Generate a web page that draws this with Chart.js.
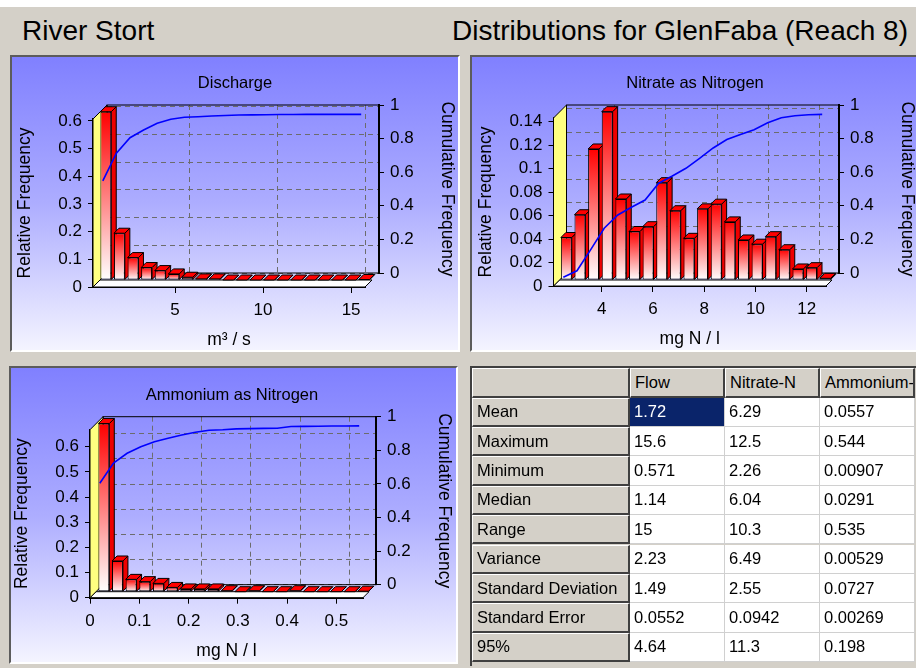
<!DOCTYPE html>
<html><head><meta charset="utf-8">
<script src="https://cdn.jsdelivr.net/npm/chart.js@4.4.0/dist/chart.umd.min.js"></script>
<style>
html,body{margin:0;padding:0;}
body{width:916px;height:668px;position:relative;overflow:hidden;background:#d4d0c8;font-family:"Liberation Sans",Arial,sans-serif;color:#000;}
#strip{position:absolute;left:0;top:0;width:916px;height:7px;background:#fff;}
.hdr{position:absolute;top:17px;font-size:28px;line-height:28px;white-space:nowrap;}
.panel{position:absolute;box-sizing:border-box;border-top:2px solid #5c5c5c;border-left:2px solid #5c5c5c;border-right:2px solid #fff;border-bottom:2px solid #fff;background:linear-gradient(to bottom,#8080ff 0%,#adadff 50%,#f4f4ff 100%);}
.ptitle{position:absolute;font-size:16.5px;line-height:20px;white-space:nowrap;transform:translateX(-50%);}
canvas.ch{position:absolute;left:0;top:0;}
#tbl{position:absolute;left:470px;top:366px;width:460px;height:300px;box-sizing:border-box;border-top:2px solid #404040;border-left:2px solid #404040;}
.cell{position:absolute;box-sizing:border-box;font-size:16.5px;padding-left:4px;display:flex;align-items:center;white-space:nowrap;overflow:hidden;}
.raised{background:#d4d0c8;border-top:1px solid #fff;border-left:1px solid #fff;border-right:2px solid #404040;border-bottom:2px solid #404040;}
.data{background:#fff;border-right:1px solid #d0d0d0;border-bottom:1px solid #d0d0d0;}
.sel{background:#0a246a;color:#fff;}
</style></head>
<body>
<div id="strip"></div>
<div class="hdr" style="left:22px;">River Stort</div>
<div class="hdr" style="left:452px;">Distributions for GlenFaba (Reach 8)</div>

<div class="panel" style="left:10px;top:55px;width:450px;height:297px;"></div>
<div class="panel" style="left:470px;top:55px;width:452px;height:297px;"></div>
<div class="panel" style="left:9px;top:366px;width:449px;height:298px;"></div>

<canvas class="ch" id="aBack" width="916" height="668"></canvas>
<canvas class="ch" id="aFront" width="916" height="668"></canvas>
<canvas class="ch" id="bBack" width="916" height="668"></canvas>
<canvas class="ch" id="bFront" width="916" height="668"></canvas>
<canvas class="ch" id="cBack" width="916" height="668"></canvas>
<canvas class="ch" id="cFront" width="916" height="668"></canvas>

<div class="ptitle" style="left:235px;top:72px;">Discharge</div>
<div class="ptitle" style="left:695px;top:72px;">Nitrate as Nitrogen</div>
<div class="ptitle" style="left:232px;top:384px;">Ammonium as Nitrogen</div>

<div id="tbl"></div>

<script>
// ---------------- data ----------------
const binLabels = ['1','2','3','4','5','6','7','8','9','10','11','12','13','14','15','16','17','18','19','20'];

const dischargeRel = [0.608,0.169,0.081,0.045,0.034,0.022,0.010,0.004,0.004,0,0,0,0,0,0,0,0,0,0,0.0014];
const dischargeCum = [0.59,0.755,0.847,0.893,0.933,0.957,0.969,0.972,0.976,0.979,0.982,0.983,0.984,0.985,0.985,0.986,0.986,0.986,0.986,0.986];

const nitrateRel = [0.0362,0.0556,0.1116,0.1434,0.069,0.0413,0.0454,0.0829,0.059,0.0355,0.0606,0.0646,0.0495,0.0341,0.0305,0.0369,0.0258,0.0094,0.0105,0.0014];
const nitrateCum = [0.01,0.049,0.173,0.302,0.381,0.427,0.47,0.57,0.613,0.659,0.718,0.78,0.83,0.86,0.889,0.93,0.96,0.972,0.978,0.98];

const ammoniumRel = [0.668,0.122,0.049,0.040,0.033,0.017,0.011,0.011,0.011,0.004,0,0.004,0,0,0.004,0,0,0,0,0.0014];
const ammoniumCum = [0.64,0.76,0.818,0.857,0.887,0.907,0.927,0.943,0.955,0.958,0.963,0.965,0.966,0.967,0.977,0.978,0.979,0.98,0.98,0.981];

const dischargeXTicks = [5,10,15];
const nitrateXTicks = [4,6,8,10,12];
const ammoniumXTicks = [0,0.1,0.2,0.3,0.4,0.5];
const dischargeYTicks = [0,0.1,0.2,0.3,0.4,0.5,0.6];
const nitrateYTicks = [0,0.02,0.04,0.06,0.08,0.1,0.12,0.14];
const ammoniumYTicks = [0,0.1,0.2,0.3,0.4,0.5,0.6];
const cumTicks = [0,0.2,0.4,0.6,0.8,1];

const statColumns = ['Flow','Nitrate-N','Ammonium-N'];
const statNames = ['Mean','Maximum','Minimum','Median','Range','Variance','Standard Deviation','Standard Error','95%'];
const flowStats = ['1.72','15.6','0.571','1.14','15','2.23','1.49','0.0552','4.64'];
const nitrateStats = ['6.29','12.5','2.26','6.04','10.3','6.49','2.55','0.0942','11.3'];
const ammoniumStats = ['0.0557','0.544','0.00907','0.0291','0.535','0.00529','0.0727','0.00269','0.198'];

// ---------------- layout / style ----------------
const W = 916, H = 668, LW = 82, RW = 82, BH = 68;
const FONT = "'Liberation Sans', Arial, sans-serif";
const tickFont = {family: FONT, size: 17};
const titleFont = {family: FONT, size: 17.5};

function fmt(v){ return String(+(+v).toFixed(6)); }
function fixTicks(list){ return s => { s.ticks = list.map(v => ({value: v})); }; }
function poly(c, pts, fill){
  c.beginPath(); c.moveTo(pts[0][0], pts[0][1]);
  for (let i = 1; i < pts.length; i++) c.lineTo(pts[i][0], pts[i][1]);
  c.closePath(); c.fillStyle = fill; c.fill(); c.stroke();
}
function faceGradient(c, top, base) {
  if (!isFinite(top) || !isFinite(base)) return '#ff0000';
  if (base - top < 1) return '#ffffff';
  const g = c.createLinearGradient(0, top, 0, base);
  g.addColorStop(0, '#ff0000'); g.addColorStop(1, '#ffffff');
  return g;
}
function barGradient(ctx) {
  const chart = ctx.chart, y = chart.scales && chart.scales.y;
  if (!y || ctx.type !== 'data') return '#ff0000';
  return faceGradient(chart.ctx, y.getPixelForValue(ctx.raw), y.getPixelForValue(0));
}

const depth3d = {
  id: 'depth3d',
  beforeDatasetsDraw(chart, args, o) {
    const a = chart.chartArea, c = chart.ctx, D = o.wall, F = o.floor;
    c.save(); c.lineWidth = 1; c.strokeStyle = '#000';
    poly(c, [[a.left, a.bottom],[a.right, a.bottom],[a.right + F, a.bottom - F],[a.left + F, a.bottom - F]], '#ffffff');
    poly(c, [[a.left, a.bottom],[a.left, a.top],[a.left + D, a.top - D],[a.left + D, a.bottom - D]], '#ffff80');
    c.restore();
  },
  beforeDatasetDraw(chart, args, o) {
    const c = chart.ctx; c.save();
    const isBar = args.meta.type === 'bar';
    const sh = isBar ? o.barShift : o.lineShift;
    c.translate(sh[0], sh[1]);
    if (isBar) {
      const d = o.bar;
      c.lineWidth = 1; c.strokeStyle = '#000';
      args.meta.data.forEach(el => {
        const p = el.getProps(['x','y','base','width'], true);
        const L = p.x - p.width / 2, R = p.x + p.width / 2;
        const T = Math.min(p.y, p.base), B = Math.max(p.y, p.base);
        poly(c, [[R, B],[R, T],[R + d, T - d],[R + d, B - d]], '#ee0000');
        poly(c, [[L, T],[R, T],[R + d, T - d],[L + d, T - d]], '#ff0000');
      });
    }
  },
  afterDatasetDraw(chart) { chart.ctx.restore(); }
};

const frame = {
  id: 'frame',
  afterDraw(chart) {
    const a = chart.chartArea, c = chart.ctx;
    c.save(); c.strokeStyle = '#000'; c.lineWidth = 1;
    c.strokeRect(a.left, a.top, a.right - a.left, a.bottom - a.top);
    c.restore();
  }
};

const common = { responsive: false, maintainAspectRatio: false, animation: false, devicePixelRatio: 1, events: [] };

function frontChart(id, cfg) {
  const a = cfg.area;
  return new Chart(document.getElementById(id), {
    type: 'bar',
    data: { labels: binLabels, datasets: [
      { type: 'line', data: cfg.cum, xAxisID: 'x', yAxisID: 'yc', borderColor: '#0000ff', borderWidth: 1.6,
        pointRadius: 0, fill: false, tension: 0, order: 0, clip: false },
      { type: 'bar', data: cfg.rel, xAxisID: 'x', yAxisID: 'y', backgroundColor: barGradient, borderColor: '#000',
        borderWidth: 1, borderSkipped: false, barPercentage: 0.8, categoryPercentage: 1, order: 1, clip: false }
    ]},
    options: Object.assign({}, common, {
      layout: { padding: { left: a.l - LW, top: a.t, right: W - a.r, bottom: H - a.b - BH } },
      plugins: { legend: {display: false}, tooltip: {enabled: false},
        depth3d: { wall: cfg.depth, floor: cfg.barShift[1] * -1, bar: 5, barShift: cfg.barShift, lineShift: [3, -7] } },
      scales: {
        x: { type: 'category', display: false, offset: true },
        xt: { type: 'linear', position: 'bottom', min: cfg.xMin, max: cfg.xMax, offset: false,
          afterBuildTicks: fixTicks(cfg.xTicks), afterFit: s => { s.height = BH; },
          ticks: { font: tickFont, color: '#000', padding: 7, maxRotation: 0, autoSkip: false, callback: fmt },
          grid: { offset: false, drawOnChartArea: false, drawTicks: true, tickLength: 6, color: '#000' },
          border: { display: true, color: '#000', width: 2 },
          title: { display: true, text: cfg.xTitle, font: titleFont, color: '#000' } },
        y: { type: 'linear', position: 'left', min: 0, max: cfg.yMax,
          afterBuildTicks: fixTicks(cfg.yTicks), afterFit: s => { s.width = LW; },
          ticks: { font: tickFont, color: '#000', padding: 6, callback: fmt },
          grid: { drawOnChartArea: false, drawTicks: true, tickLength: 5, color: '#000' },
          border: { display: true, color: '#000', width: 2 },
          title: { display: true, text: 'Relative Frequency', font: titleFont, color: '#000' } },
        yc: { type: 'linear', display: false, min: 0, max: 1 }
      }
    }),
    plugins: [depth3d]
  });
}

function backChart(id, cfg) {
  const a = cfg.area, D = cfg.depth;
  const b = { l: a.l + D, t: a.t - D, r: a.r + D, b: a.b - D };
  const gridOpt = { color: '#6c6c6c', lineWidth: 1, drawTicks: false, offset: false };
  return new Chart(document.getElementById(id), {
    type: 'line',
    data: { datasets: [{ data: [], xAxisID: 'xg', yAxisID: 'yg' }] },
    options: Object.assign({}, common, {
      layout: { padding: { left: b.l, top: b.t, right: W - b.r - RW, bottom: H - b.b } },
      plugins: { legend: {display: false}, tooltip: {enabled: false} },
      scales: {
        xg: { type: 'linear', position: 'bottom', min: cfg.xMin, max: cfg.xMax, offset: false,
          afterBuildTicks: fixTicks(cfg.xTicks), afterFit: s => { s.height = 0; },
          ticks: { display: false }, grid: gridOpt, border: { display: false, dash: [5, 4] } },
        yg: { type: 'linear', position: 'left', min: 0, max: cfg.yMax,
          afterBuildTicks: fixTicks(cfg.yTicks), afterFit: s => { s.width = 0; },
          ticks: { display: false }, grid: gridOpt, border: { display: false, dash: [5, 4] } },
        yr: { type: 'linear', position: 'right', min: 0, max: 1,
          afterBuildTicks: fixTicks(cumTicks), afterFit: s => { s.width = RW; },
          ticks: { font: tickFont, color: '#000', padding: 6, callback: fmt },
          grid: { drawOnChartArea: false, drawTicks: true, tickLength: 5, color: '#000' },
          border: { display: true, color: '#000', width: 2 },
          title: { display: true, text: 'Cumulative Frequency', font: titleFont, color: '#000' } }
      }
    }),
    plugins: [frame]
  });
}

const chartA = { area: {l: 93, t: 119, r: 365, b: 287}, depth: 14, barShift: [6, -7], yMax: 0.607, xMin: 0.34, xMax: 15.79,
  xTicks: dischargeXTicks, yTicks: dischargeYTicks, rel: dischargeRel, cum: dischargeCum, xTitle: 'm³ / s' };
const chartB = { area: {l: 553.5, t: 118, r: 826, b: 286}, depth: 13, barShift: [6, -6], yMax: 0.1431, xMin: 2.119, xMax: 12.753,
  xTicks: nitrateXTicks, yTicks: nitrateYTicks, rel: nitrateRel, cum: nitrateCum, xTitle: 'mg N / l' };
const chartC = { area: {l: 90, t: 429.7, r: 363, b: 597.7}, depth: 13, barShift: [7, -6], yMax: 0.6675, xMin: 0, xMax: 0.554,
  xTicks: ammoniumXTicks, yTicks: ammoniumYTicks, rel: ammoniumRel, cum: ammoniumCum, xTitle: 'mg N / l' };

// ---------------- statistics table ----------------
(function buildTable(){
  const tbl = document.getElementById('tbl');
  const colX = [0, 158, 253, 348, 443];
  const headH = 29.5, rowH = 29.4;
  const cols = [flowStats, nitrateStats, ammoniumStats];
  function cell(x, y, w, h, cls, text) {
    const d = document.createElement('div');
    d.className = 'cell ' + cls;
    d.style.left = x + 'px'; d.style.top = y + 'px'; d.style.width = w + 'px'; d.style.height = h + 'px';
    d.textContent = text; tbl.appendChild(d);
  }
  cell(colX[0], 0, colX[1] - colX[0], headH, 'raised', '');
  statColumns.forEach((c, j) => cell(colX[j + 1], 0, colX[j + 2] - colX[j + 1], headH, 'raised', c));
  statNames.forEach((n, i) => {
    const y = headH + i * rowH;
    cell(colX[0], y, colX[1] - colX[0], rowH, 'raised', n);
    cols.forEach((col, j) => cell(colX[j + 1], y, colX[j + 2] - colX[j + 1], rowH,
      (i === 0 && j === 0) ? 'data sel' : 'data', col[i]));
  });
})();

[['aBack', chartA, backChart], ['aFront', chartA, frontChart], ['bBack', chartB, backChart],
 ['bFront', chartB, frontChart], ['cBack', chartC, backChart], ['cFront', chartC, frontChart]].forEach(([id, cfg, fn]) => {
  try { fn(id, cfg); } catch (e) { console.error(id, e); }
});
</script>
</body></html>
